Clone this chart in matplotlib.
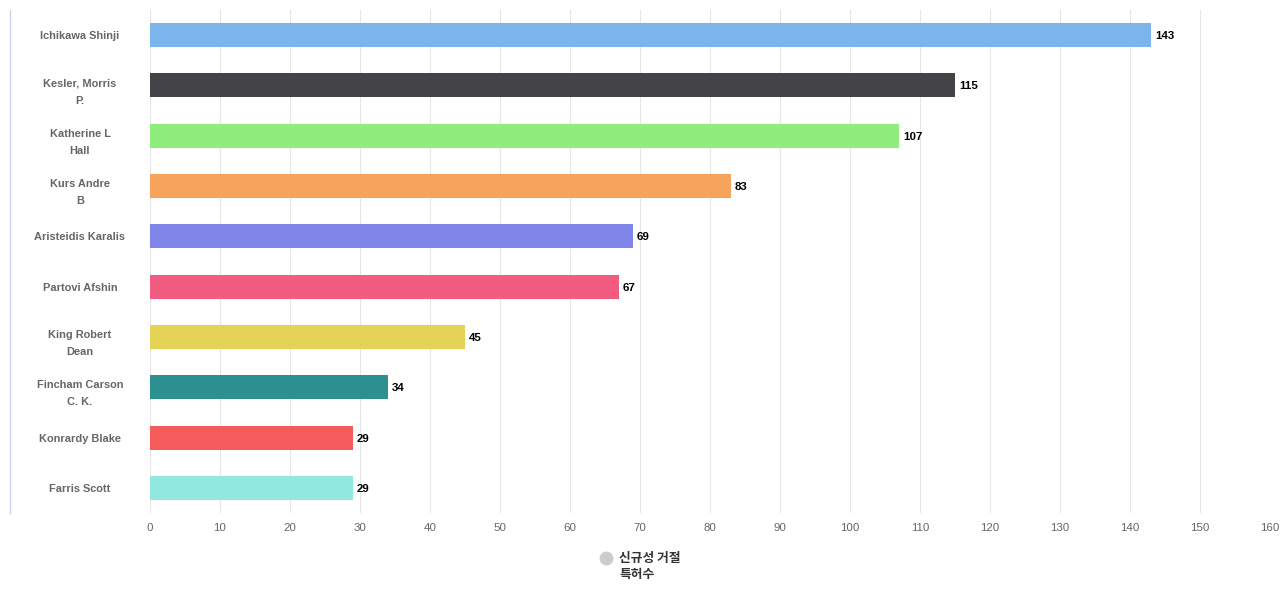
import matplotlib
matplotlib.use("Agg")
import matplotlib.pyplot as plt
from matplotlib.lines import Line2D
from matplotlib.transforms import blended_transform_factory

plt.rcParams['font.family'] = ['Liberation Sans', 'Noto Sans CJK KR', 'DejaVu Sans']

names = ["Ichikawa Shinji", "Kesler, Morris\nP.", "Katherine L\nHall", "Kurs Andre\nB",
         "Aristeidis Karalis", "Partovi Afshin", "King Robert\nDean", "Fincham Carson\nC. K.",
         "Konrardy Blake", "Farris Scott"]
values = [143, 115, 107, 83, 69, 67, 45, 34, 29, 29]
colors = ["#7cb5ec", "#434348", "#90ed7d", "#f7a35c", "#8085e9", "#f15c80",
          "#e4d354", "#2b908f", "#f45b5b", "#91e8e1"]
xticks = list(range(0, 161, 10))
legend_label = "신규성 거절\n특허수"

W, H = 1280, 600
fig = plt.figure(figsize=(W / 100, H / 100), dpi=100)
ax = fig.add_axes([150 / W, 1 - 513 / H, 1120 / W, 503 / H])

n = len(names)
ypos = list(range(n))
ax.barh(ypos, values, height=0.477, color=colors, zorder=3)
ax.set_ylim(n - 0.5, -0.5)
ax.set_xlim(0, 160)
ax.set_xticks(xticks)
ax.set_xticklabels([str(t) for t in xticks], color="#666666", fontsize=8.25)
ax.tick_params(axis='x', length=0, pad=7)
ax.set_yticks([])
for s in ax.spines.values():
    s.set_visible(False)
ax.grid(axis='x', color="#e6e6e6", linewidth=0.8, zorder=0)

for y, v in zip(ypos, values):
    ax.annotate(str(v), (v, y), xytext=(4, -1), textcoords='offset pixels',
                ha='left', va='center', fontsize=8.25, fontweight='bold', color='black')

tr = blended_transform_factory(fig.transFigure, ax.transData)
for y, name in zip(ypos, names):
    dy = -6.5 if "\n" in name else -1
    fig.text(80 / W, y, name, transform=tr, ha='center', va='center',
             fontsize=7.9, fontweight='bold', color="#666666", linespacing=1.9)
    fig.texts[-1].set_transform(tr + matplotlib.transforms.ScaledTranslation(0, dy / 100, fig.dpi_scale_trans))

fig.add_artist(Line2D([9.5 / W, 9.5 / W], [1 - 10 / H, 1 - 513 / H],
                      transform=fig.transFigure, color="#ccd6eb", linewidth=1))

fig.add_artist(Line2D([606 / W], [1 - 558 / H], transform=fig.transFigure, marker='o',
                      markersize=9, color="#cccccc", linestyle='none'))
fig.text(619 / W, 1 - 552 / H, legend_label, ha='left', va='top', fontsize=9.2,
         fontweight='bold', color="#333333", linespacing=1.3,
         family=['Noto Sans CJK KR', 'DejaVu Sans'])

fig.savefig("out.png", dpi=100)
